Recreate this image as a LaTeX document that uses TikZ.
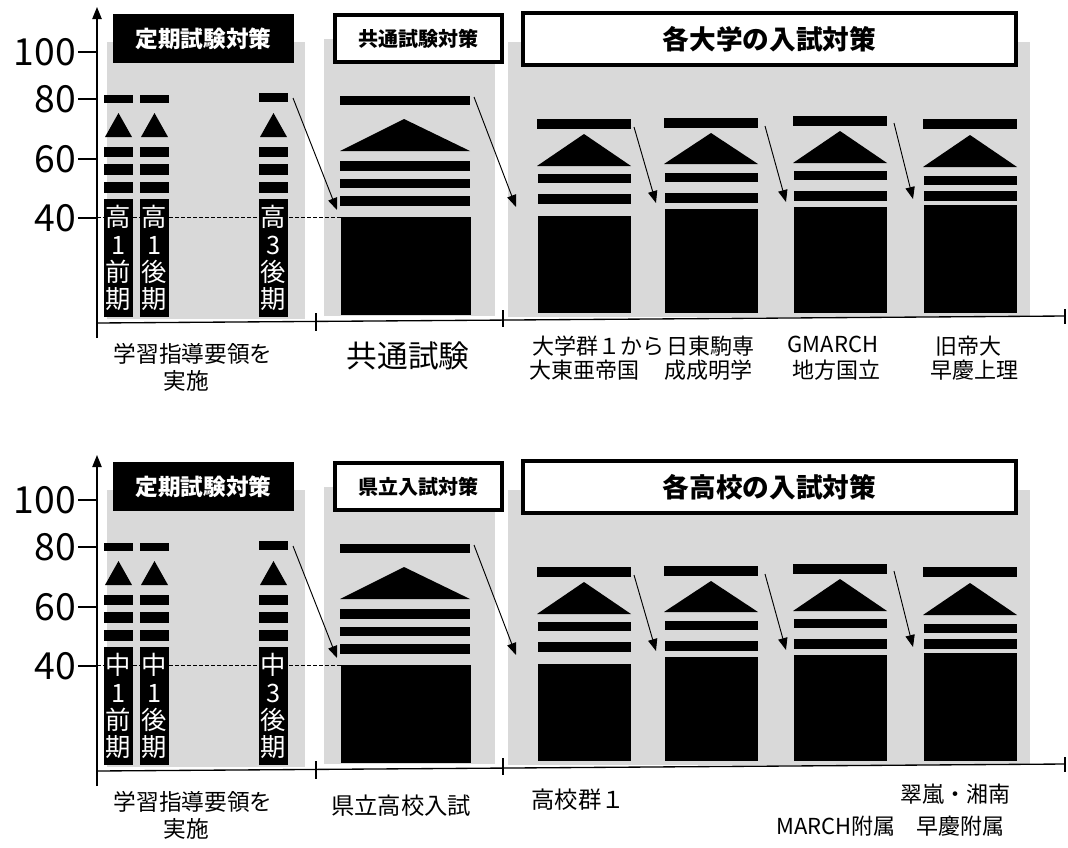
\documentclass[tikz,border=0pt]{standalone}
\usepackage{fontspec}
\setmainfont{Noto Sans CJK JP}
\usetikzlibrary{arrows.meta}
\definecolor{panelgray}{HTML}{D9D9D9}
\newcommand\pxunit{0.75pt}
\tikzset{
  blk/.style={fill=black},
  graypanel/.style={fill=panelgray},
  blacktitle/.style={fill=black, text=white, inner sep=0pt, font=\bfseries\fontsize{17}{20}\selectfont},
  whitetitle/.style={draw=black, line width=3pt, fill=white, inner sep=0pt},
  coltext/.style={fill=black, text=white, inner sep=0pt, align=center, font=\fontsize{19}{20.3}\selectfont, minimum width=29*\pxunit, minimum height=118*\pxunit},
  conn/.style={-{Triangle[length=9pt,width=7pt]}, line width=0.7pt},
  axisline/.style={line width=1pt},
  lbl/.style={inner sep=0pt, align=center},
  axisnum/.style={anchor=east, inner sep=0pt, font=\fontsize{28}{30}\selectfont},
}
% #1 suffix, #2 yshift (px), #3 title1, #4 title2, #5 title3, #6 #7 #8 column texts
\newcommand\drawpanel[8]{%
\begin{scope}[yshift=-#2*\pxunit]
  % gray panels
  \fill[graypanel] (107,42) rectangle (305,319);
  \fill[graypanel] (324,39) rectangle (495,316);
  \fill[graypanel] (508,42) rectangle (1030,317);
  % titles
  \node[blacktitle, minimum width=181*\pxunit, minimum height=49*\pxunit] (tA#1) at (203.5,38.5) {#3};
  \node[whitetitle, minimum width=167*\pxunit, minimum height=47*\pxunit, font=\bfseries\fontsize{15}{18}\selectfont] (tB#1) at (418.5,38.5) {#4};
  \node[whitetitle, minimum width=493*\pxunit, minimum height=52*\pxunit, font=\bfseries\fontsize{20}{24}\selectfont] (tC#1) at (769.5,39) {#5};
  % dashed level line
  \draw[dashed, line width=0.6pt, dash pattern=on 3pt off 1.5pt] (97,217) -- (345,217);
  % panel 1 small columns
  \foreach \cx/\ta/\tb in {118.5/95/103, 154.5/95/103, 273.5/93/102}{
    \fill[blk] (\cx-14.5,\ta) rectangle (\cx+14.5,\tb);
    \fill[blk] (\cx-13.5,137) -- (\cx,113) -- (\cx+13.5,137) -- cycle;
    \fill[blk] (\cx-14.5,147) rectangle (\cx+14.5,157);
    \fill[blk] (\cx-14.5,164) rectangle (\cx+14.5,175);
    \fill[blk] (\cx-14.5,182) rectangle (\cx+14.5,193);
  }
  \node[coltext] (cA#1) at (118.5,258) {#6};
  \node[coltext] (cB#1) at (154.5,258) {#7};
  \node[coltext] (cC#1) at (273.5,258) {#8};
  % panel 2 column
  \fill[blk] (340,96) rectangle (470,105);
  \fill[blk] (340,151) -- (404,119) -- (470,151) -- cycle;
  \fill[blk] (340,161) rectangle (470,171);
  \fill[blk] (340,179) rectangle (470,188);
  \fill[blk] (340,196) rectangle (470,206);
  \fill[blk] (341,217) rectangle (471,315);
  % panel 3 columns
  \foreach \xa/\xb/\ta/\tb/\ax/\ay/\bs/\pa/\pb/\qa/\qb/\bx in {
      537/631/119/129/584/134/166/174/183/194/204/216,
      664/758/118/128/711/133/164/173/182/193/203/209,
      793/887/116/126/840/131/163/171/180/191/201/207,
      923/1017/119/129/970/135/167/176/185/191/201/205}{
    \fill[blk] (\xa,\ta) rectangle (\xb,\tb);
    \fill[blk] (\xa,\bs) -- (\ax,\ay) -- (\xb,\bs) -- cycle;
    \fill[blk] (\xa+1,\pa) rectangle (\xb,\pb);
    \fill[blk] (\xa+1,\qa) rectangle (\xb,\qb);
    \fill[blk] (\xa+1,\bx) rectangle (\xb,313);
  }
  % arrows
  \coordinate (s1#1) at (293,98);  \coordinate (e1#1) at (337,210);
  \coordinate (s2#1) at (474,97);  \coordinate (e2#1) at (516,207);
  \coordinate (s3#1) at (634,127); \coordinate (e3#1) at (656,203);
  \coordinate (s4#1) at (765,126); \coordinate (e4#1) at (786,202);
  \coordinate (s5#1) at (894,123); \coordinate (e5#1) at (913,199);
  \foreach \k in {1,...,5}{\draw[conn] (s\k#1) -- (e\k#1);}
  % axes
  \coordinate (yb#1) at (97,338); \coordinate (yt#1) at (97,7);
  \draw[axisline, -{Triangle[length=9pt,width=7pt]}] (yb#1) -- (yt#1);
  \coordinate (xl#1) at (97,323); \coordinate (xr#1) at (1065,316);
  \draw[axisline] (xl#1) -- (xr#1);
  \draw[axisline] (316,313) -- (316,331);
  \draw[axisline] (503,310) -- (503,327);
  \draw[axisline] (1065,309) -- (1065,324);
  \foreach \yy/\vv in {52/100, 99/80, 159/60, 218/40}{
    \draw[axisline] (78,\yy) -- (97,\yy);
    \node[axisnum] at (76,\yy) {\vv};
  }
\end{scope}}

\begin{document}
\begin{tikzpicture}[x=0.75pt, y=-0.75pt]
\useasboundingbox (0,0) rectangle (1068,847);
\drawpanel{t}{0}{定期試験対策}{共通試験対策}{各大学の入試対策}{高\\1\\前\\期}{高\\1\\後\\期}{高\\3\\後\\期}
\drawpanel{b}{448}{定期試験対策}{県立入試対策}{各高校の入試対策}{中\\1\\前\\期}{中\\1\\後\\期}{中\\3\\後\\期}
% top labels
\node[lbl, font=\fontsize{17}{20}\selectfont] (l1) at (193,354) {学習指導要領を};
\node[lbl, font=\fontsize{17}{20}\selectfont] (l2) at (186,381) {実施};
\node[lbl, font=\fontsize{23}{26}\selectfont] (l3) at (408,356) {共通試験};
\node[lbl, font=\fontsize{16.5}{19}\selectfont] (l4) at (598,346) {大学群１から};
\node[lbl, font=\fontsize{16.5}{19}\selectfont] (l5) at (710,346) {日東駒専};
\node[lbl, font=\fontsize{16.5}{19}\selectfont] (l6) at (584,370) {大東亜帝国};
\node[lbl, font=\fontsize{16.5}{19}\selectfont] (l7) at (708,370) {成成明学};
\node[lbl, font=\fontsize{16.5}{19}\selectfont] (l8) at (833,344) {GMARCH};
\node[lbl, font=\fontsize{16.5}{19}\selectfont] (l9) at (836,370) {地方国立};
\node[lbl, font=\fontsize{16.5}{19}\selectfont] (l10) at (968,346) {旧帝大};
\node[lbl, font=\fontsize{16.5}{19}\selectfont] (l11) at (974,370) {早慶上理};
% bottom labels
\node[lbl, font=\fontsize{17}{20}\selectfont] (m1) at (193,802) {学習指導要領を};
\node[lbl, font=\fontsize{17}{20}\selectfont] (m2) at (186,829) {実施};
\node[lbl, font=\fontsize{17.5}{20}\selectfont] (m3) at (401,806) {県立高校入試};
\node[lbl, font=\fontsize{17.5}{20}\selectfont] (m4) at (578,800) {高校群１};
\node[lbl, font=\fontsize{16.5}{19}\selectfont] (m5) at (955,794) {翠嵐・湘南};
\node[lbl, font=\fontsize{16.5}{19}\selectfont] (m6) at (836,826) {MARCH附属};
\node[lbl, font=\fontsize{16.5}{19}\selectfont] (m7) at (960,826) {早慶附属};
\end{tikzpicture}
\end{document}
